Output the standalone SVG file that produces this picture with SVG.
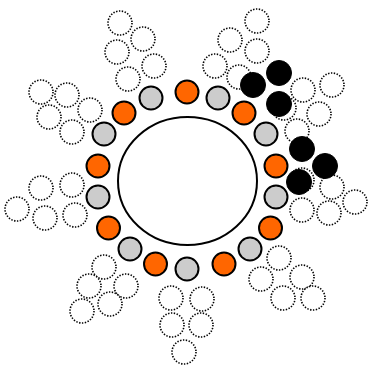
<svg xmlns="http://www.w3.org/2000/svg" width="369" height="365" viewBox="0 0 369 365">
<style>
.d{fill:#fff;stroke:#000;stroke-width:1.6;stroke-dasharray:1.4 1.5}
.o{fill:#ff6600;stroke:#000;stroke-width:2}
.g{fill:#cccccc;stroke:#000;stroke-width:2}
.b{fill:#000;stroke:#000;stroke-width:1}
.c{fill:#fff;stroke:#000;stroke-width:2}
</style>
<rect width="369" height="365" fill="#fff"/>
<g id="dotted">
<circle class="d" cx="120" cy="23" r="12"/>
<circle class="d" cx="143" cy="39" r="12"/>
<circle class="d" cx="117" cy="52" r="12"/>
<circle class="d" cx="154" cy="66" r="12"/>
<circle class="d" cx="128" cy="79" r="12"/>
<circle class="d" cx="41" cy="92" r="12"/>
<circle class="d" cx="67" cy="95" r="12"/>
<circle class="d" cx="49" cy="117" r="12"/>
<circle class="d" cx="90" cy="110" r="12"/>
<circle class="d" cx="72" cy="132" r="12"/>
<circle class="d" cx="41" cy="188" r="12"/>
<circle class="d" cx="72" cy="185" r="12"/>
<circle class="d" cx="17" cy="209" r="12"/>
<circle class="d" cx="45" cy="218" r="12"/>
<circle class="d" cx="75" cy="215" r="12"/>
<circle class="d" cx="104" cy="267" r="12"/>
<circle class="d" cx="89" cy="286" r="12"/>
<circle class="d" cx="126" cy="286" r="12"/>
<circle class="d" cx="110" cy="304" r="12"/>
<circle class="d" cx="82" cy="311" r="12"/>
<circle class="d" cx="171" cy="298" r="12"/>
<circle class="d" cx="202" cy="299" r="12"/>
<circle class="d" cx="172" cy="325" r="12"/>
<circle class="d" cx="201" cy="325" r="12"/>
<circle class="d" cx="184" cy="352" r="12"/>
<circle class="d" cx="279" cy="258" r="12"/>
<circle class="d" cx="261" cy="279" r="12"/>
<circle class="d" cx="302" cy="277" r="12"/>
<circle class="d" cx="283" cy="298" r="12"/>
<circle class="d" cx="313" cy="298" r="12"/>
<circle class="d" cx="332" cy="187" r="12"/>
<circle class="d" cx="355" cy="202" r="12"/>
<circle class="d" cx="329" cy="213" r="12"/>
<circle class="d" cx="302" cy="210" r="12"/>
<circle class="d" cx="302" cy="180" r="12"/>
<circle class="d" cx="303" cy="90" r="12"/>
<circle class="d" cx="332" cy="85" r="12"/>
<circle class="d" cx="319" cy="114" r="12"/>
<circle class="d" cx="284" cy="108" r="12"/>
<circle class="d" cx="297" cy="131" r="12"/>
<circle class="d" cx="257" cy="21" r="12"/>
<circle class="d" cx="230" cy="40" r="12"/>
<circle class="d" cx="257" cy="51" r="12"/>
<circle class="d" cx="215" cy="66" r="12"/>
<circle class="d" cx="239" cy="77" r="12"/>
</g>
<g id="center"><ellipse class="c" cx="187.5" cy="181" rx="69.5" ry="64"/></g>
<g id="ring">
<circle class="o" cx="187" cy="92" r="11.5"/>
<circle class="g" cx="218" cy="98" r="11.5"/>
<circle class="o" cx="244" cy="113" r="11.5"/>
<circle class="g" cx="266" cy="134" r="11.5"/>
<circle class="o" cx="276" cy="166" r="11.5"/>
<circle class="g" cx="276" cy="197" r="11.5"/>
<circle class="o" cx="270.5" cy="228" r="11.5"/>
<circle class="g" cx="250" cy="249" r="11.5"/>
<circle class="o" cx="224" cy="264" r="11.5"/>
<circle class="g" cx="187" cy="269" r="11.5"/>
<circle class="o" cx="155.5" cy="264" r="11.5"/>
<circle class="g" cx="130" cy="249" r="11.5"/>
<circle class="o" cx="108.5" cy="228" r="11.5"/>
<circle class="g" cx="98" cy="197" r="11.5"/>
<circle class="o" cx="98" cy="166" r="11.5"/>
<circle class="g" cx="104" cy="134" r="11.5"/>
<circle class="o" cx="124" cy="113" r="11.5"/>
<circle class="g" cx="151" cy="98" r="11.5"/>
</g>
<g id="black">
<circle class="b" cx="253" cy="85" r="12.5"/>
<circle class="b" cx="279" cy="73" r="12.5"/>
<circle class="b" cx="279" cy="104" r="12.5"/>
<circle class="b" cx="302" cy="149" r="12.5"/>
<circle class="b" cx="325" cy="166" r="12.5"/>
<circle class="b" cx="299" cy="182" r="12.5"/>
</g>
</svg>
